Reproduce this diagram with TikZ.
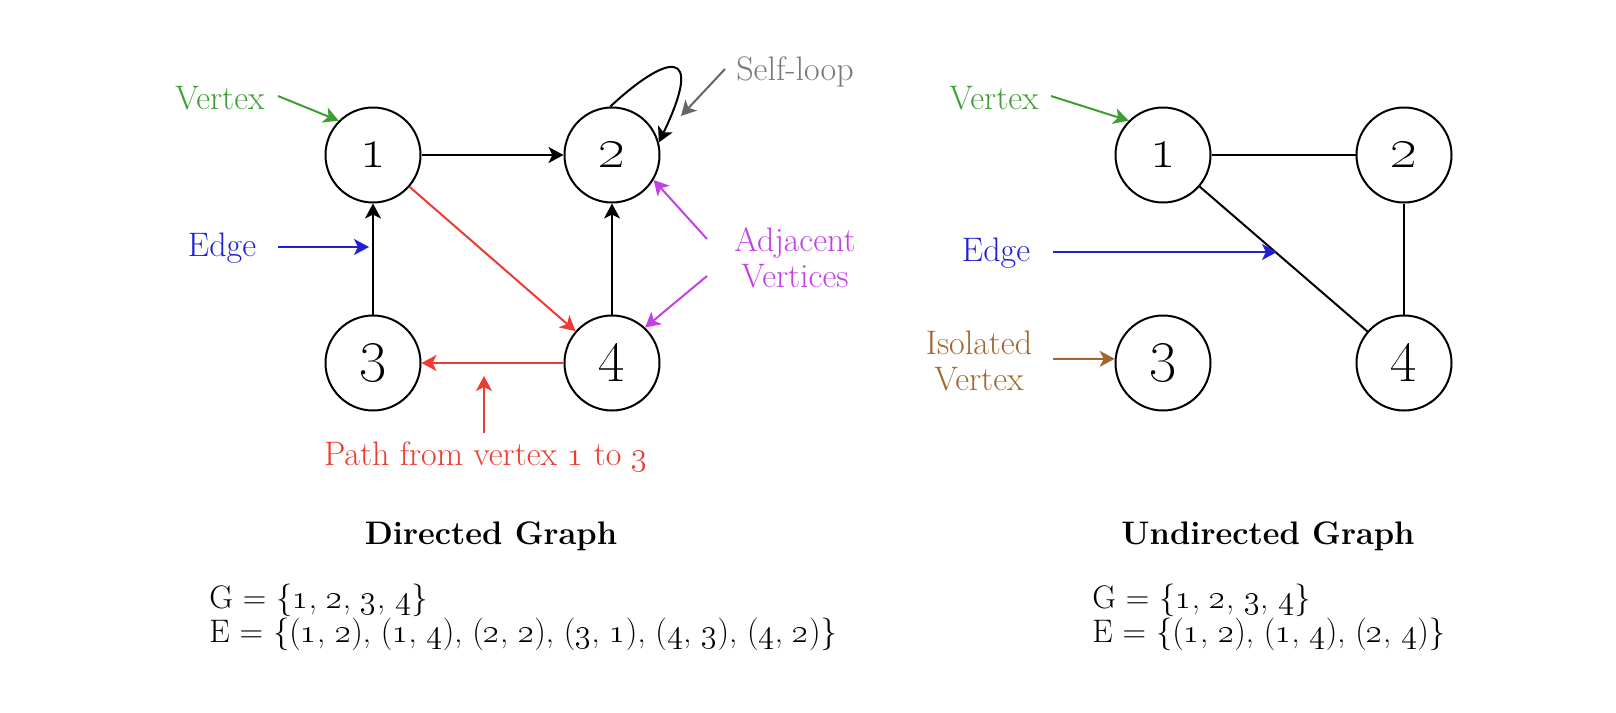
\documentclass[tikz,border=0pt]{standalone}
\usetikzlibrary{arrows.meta,shapes.geometric}
\definecolor{vgreen}{RGB}{62,158,52}
\definecolor{eblue}{RGB}{32,32,215}
\definecolor{pred}{RGB}{238,58,48}
\definecolor{amag}{RGB}{196,64,228}
\definecolor{sgray}{RGB}{120,120,120}
\definecolor{ibrown}{RGB}{160,104,48}
\newcommand\osn[1]{\oldstylenums{#1}}
\begin{document}
\begin{tikzpicture}[x=0.5pt,y=-0.5pt,
  vert/.style={circle,draw,line width=1pt,minimum size=47.5pt,inner sep=0pt,font=\fontsize{28}{32}\selectfont},
  lbl/.style={font=\fontsize{17}{18}\selectfont,align=center,inner sep=0pt},
  ttl/.style={font=\fontsize{16.3}{19}\selectfont\bfseries,inner sep=0pt},
  setl/.style={font=\fontsize{16.3}{18}\selectfont,inner sep=0pt,anchor=base west},
  edge/.style={line width=1pt},
  arr/.style={line width=1pt,-{Stealth[length=7.5pt,width=8pt,inset=2pt]}}]
\useasboundingbox (0,0) rectangle (1616,712);
% ---------- directed graph ----------
\node[vert] (a1) at (373,155) {\osn{1}};
\node[vert] (a2) at (612,155) {\osn{2}};
\node[vert] (a3) at (373,363) {\osn{3}};
\node[vert] (a4) at (612,363) {\osn{4}};
\draw[arr] (a1) -- (a2);
\draw[arr] (a3) -- (a1);
\draw[arr] (a4) -- (a2);
\draw[arr,pred] (a1) -- (a4);
\draw[arr,pred] (a4) -- (a3);
\draw[arr] (a2.92) .. controls +(28pt,26pt) and +(23.5pt,49pt) .. (a2.15);
% labels
\node[lbl,text=vgreen] (dv) at (220,98) {Vertex};
\coordinate (dvs) at (278,96);
\draw[arr,vgreen] (dvs) -- (a1.135);
\node[lbl,text=eblue] (de) at (222,248) {Edge};
\coordinate (des) at (278,247);
\coordinate (det) at (369,247);
\draw[arr,eblue] (des) -- (det);
\node[lbl,text=sgray] (sl) at (795,72) {Self-loop};
\coordinate (sls) at (725,69);
\coordinate (slt) at (681,116);
\draw[arr,sgray!85!black] (sls) -- (slt);
\node[lbl,text=amag] (adj) at (795,258) {Adjacent\\Vertices};
\coordinate (adjs1) at (707,239);
\coordinate (adjs2) at (707,276);
\draw[arr,amag] (adjs1) -- (a2.-31);
\draw[arr,amag] (adjs2) -- (a4.47);
\node[lbl,text=pred] (pl) at (486,457) {Path from vertex \osn{1} to \osn{3}};
\coordinate (pls) at (484,433);
\coordinate (plt) at (484,376);
\draw[arr,pred] (pls) -- (plt);
\node[ttl] (dt) at (491,536) {Directed Graph};
\node[setl] (dg) at (209,608) {G = \{\osn{1}, \osn{2}, \osn{3}, \osn{4}\}};
\node[setl] (de2) at (209,642) {E = \{(\osn{1}, \osn{2}), (\osn{1}, \osn{4}), (\osn{2}, \osn{2}), (\osn{3}, \osn{1}), (\osn{4}, \osn{3}), (\osn{4}, \osn{2})\}};
% ---------- undirected graph ----------
\node[vert] (u1) at (1163,155) {\osn{1}};
\node[vert] (u2) at (1404,155) {\osn{2}};
\node[vert] (u3) at (1163,363) {\osn{3}};
\node[vert] (u4) at (1404,363) {\osn{4}};
\draw[edge] (u1) -- (u2);
\draw[edge] (u1) -- (u4);
\draw[edge] (u2) -- (u4);
\node[lbl,text=vgreen] (uv) at (994,98) {Vertex};
\coordinate (uvs) at (1051,96);
\draw[arr,vgreen] (uvs) -- (u1.135);
\node[lbl,text=eblue] (ue) at (996,253) {Edge};
\coordinate (ues) at (1053,252);
\coordinate (uet) at (1277,252);
\draw[arr,eblue] (ues) -- (uet);
\node[lbl,text=ibrown] (iso) at (979,361) {Isolated\\Vertex};
\coordinate (isos) at (1053,359);
\draw[arr,ibrown] (isos) -- (u3.175);
\node[ttl] (ut) at (1268,536) {Undirected Graph};
\node[setl] (ug) at (1092,608) {G = \{\osn{1}, \osn{2}, \osn{3}, \osn{4}\}};
\node[setl] (ue2) at (1092,642) {E = \{(\osn{1}, \osn{2}), (\osn{1}, \osn{4}), (\osn{2}, \osn{4})\}};
\end{tikzpicture}
\end{document}
